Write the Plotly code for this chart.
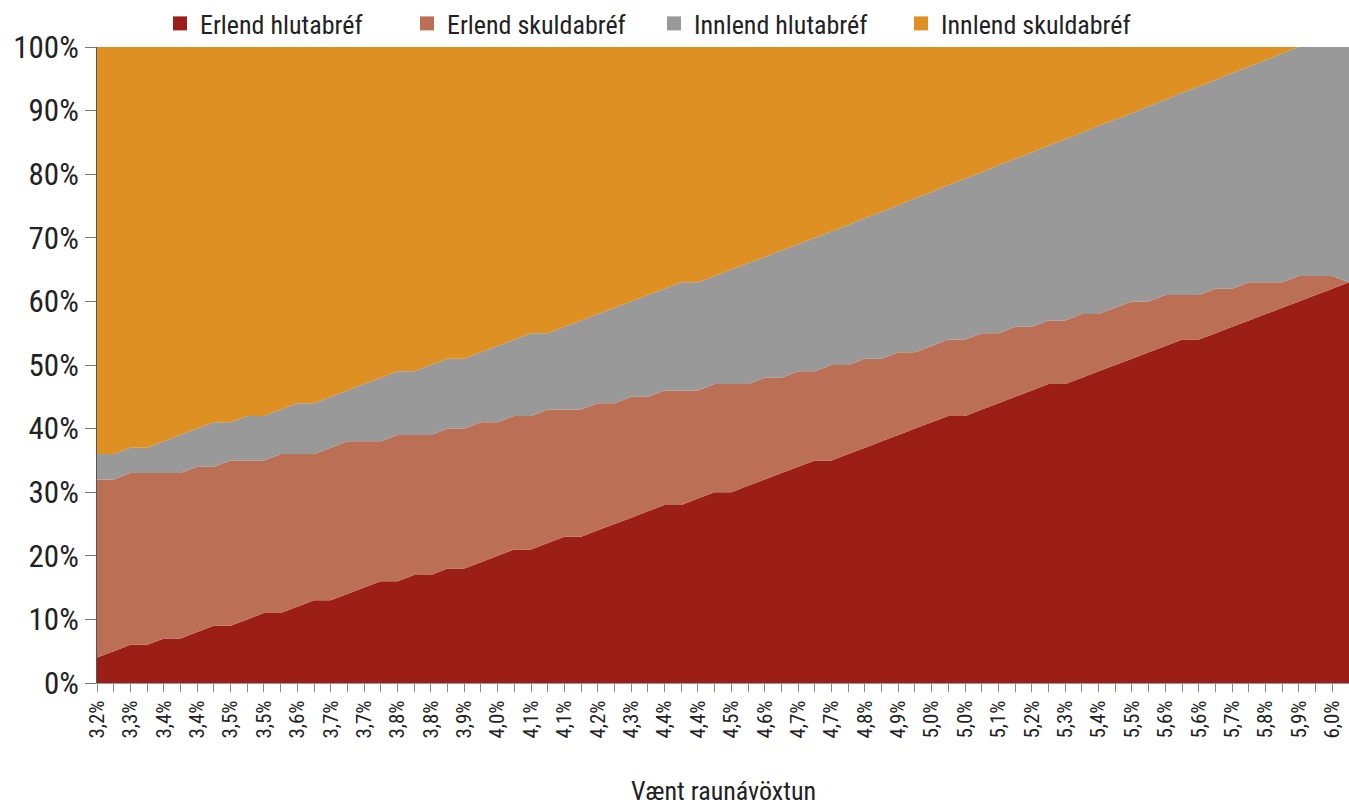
import plotly.graph_objects as go

# Tick labels shown on every other category (expected real return)
x_labels = ["3,2%", "3,3%", "3,4%", "3,4%", "3,5%", "3,5%", "3,6%", "3,7%", "3,7%", "3,8%",
            "3,8%", "3,9%", "4,0%", "4,1%", "4,1%", "4,2%", "4,3%", "4,4%", "4,4%", "4,5%",
            "4,6%", "4,7%", "4,7%", "4,8%", "4,9%", "5,0%", "5,0%", "5,1%", "5,2%", "5,3%",
            "5,4%", "5,5%", "5,6%", "5,6%", "5,7%", "5,8%", "5,9%", "6,0%"]

erlend_hlutabref = [4, 5, 6, 6, 7, 7, 8, 9, 9, 10, 11, 11, 12, 13, 13, 14, 15, 16, 16, 17,
                    17, 18, 18, 19, 20, 21, 21, 22, 23, 23, 24, 25, 26, 27, 28, 28, 29, 30, 30, 31,
                    32, 33, 34, 35, 35, 36, 37, 38, 39, 40, 41, 42, 42, 43, 44, 45, 46, 47, 47, 48,
                    49, 50, 51, 52, 53, 54, 54, 55, 56, 57, 58, 59, 60, 61, 62, 63]
erlend_skuldabref = [28, 27, 27, 27, 26, 26, 26, 25, 26, 25, 24, 25, 24, 23, 24, 24, 23, 22, 23, 22,
                     22, 22, 22, 22, 21, 21, 21, 21, 20, 20, 20, 19, 19, 18, 18, 18, 17, 17, 17, 16,
                     16, 15, 15, 14, 15, 14, 14, 13, 13, 12, 12, 12, 12, 12, 11, 11, 10, 10, 10, 10,
                     9, 9, 9, 8, 8, 7, 7, 7, 6, 6, 5, 4, 4, 3, 2, 0]
innlend_hlutabref = [4, 4, 4, 4, 5, 6, 6, 7, 6, 7, 7, 7, 8, 8, 8, 8, 9, 10, 10, 10,
                     11, 11, 11, 11, 12, 12, 13, 12, 13, 14, 14, 15, 15, 16, 16, 17, 17, 17, 18, 19,
                     19, 20, 20, 21, 21, 22, 22.1, 23.1, 23.1, 24.2, 24.2, 24.3, 25.3, 25.3, 26.4, 26.4,
                     27.4, 27.5, 28.5, 28.5, 29.6, 29.6, 29.6, 30.7, 30.7, 31.8, 32.8, 32.8, 33.9, 33.9,
                     34.9, 36, 36, 36, 36, 37]
innlend_skuldabref = [64, 64, 63, 63, 62, 61, 60, 59, 59, 58, 58, 57, 56, 56, 55, 54, 53, 52, 51, 51,
                      50, 49, 49, 48, 47, 46, 45, 45, 44, 43, 42, 41, 40, 39, 38, 37, 37, 36, 35, 34,
                      33, 32, 31, 30, 29, 28, 26.9, 25.9, 24.9, 23.8, 22.8, 21.7, 20.7, 19.7, 18.6, 17.6,
                      16.6, 15.5, 14.5, 13.5, 12.4, 11.4, 10.4, 9.3, 8.3, 7.2, 6.2, 5.2, 4.1, 3.1,
                      2.1, 1, 0, 0, 0, 0]

series_names = ["Erlend hlutabréf", "Erlend skuldabréf", "Innlend hlutabréf", "Innlend skuldabréf"]
series_values = [erlend_hlutabref, erlend_skuldabref, innlend_hlutabref, innlend_skuldabref]
colors = ["#9b1f16", "#bb6f55", "#999999", "#de9022"]

n = len(erlend_hlutabref)
x = list(range(n))
tickvals = x
ticktext = [x_labels[i // 2] if i % 2 == 0 and i // 2 < len(x_labels) else "" for i in x]

FONT = "Roboto Condensed, Liberation Sans Narrow, Arial Narrow, DejaVu Sans Condensed, Roboto, sans-serif"

fig = go.Figure()
for name, vals, col in zip(series_names, series_values, colors):
    fig.add_trace(go.Scatter(
        x=x, y=vals, name=name, stackgroup="one", mode="none",
        fillcolor=col, line=dict(width=0, color=col), showlegend=False,
    ))
# legend entries with square swatches
for name, col in zip(series_names, colors):
    fig.add_trace(go.Scatter(
        x=[None], y=[None], name=name, mode="markers",
        marker=dict(symbol="square", size=14, color=col), showlegend=True,
    ))

fig.update_layout(
    width=1349, height=806,
    margin=dict(l=97, r=0, t=47, b=123),
    paper_bgcolor="white", plot_bgcolor="white",
    font=dict(family=FONT, color="#222222"),
    showlegend=True,
    legend=dict(
        orientation="h", yref="paper",
        x=(160 - 97) / (1349 - 97), xanchor="left", y=1.0, yanchor="bottom",
        font=dict(size=26, family=FONT, color="#222222"),
        entrywidth=202, entrywidthmode="pixels",
        bgcolor="rgba(0,0,0,0)", traceorder="normal",
    ),
    xaxis=dict(
        range=[0, n - 1], tickmode="array", tickvals=tickvals, ticktext=ticktext,
        tickangle=-90, ticks="outside", ticklen=8, tickcolor="#888888",
        showline=True, linecolor="#999999", showgrid=False, zeroline=False,
        tickfont=dict(size=21, family=FONT, color="#222222"), automargin=False,
    ),
    yaxis=dict(
        range=[0, 100], tickmode="array", tickvals=list(range(0, 101, 10)),
        ticktext=[f"{v}%" for v in range(0, 101, 10)],
        ticks="outside", ticklen=11, tickcolor="#777777",
        showline=True, linecolor="#555555", showgrid=False, zeroline=False,
        tickfont=dict(size=31, family=FONT, color="#222222"), automargin=False,
    ),
    annotations=[dict(
        text="Vænt raunávöxtun", xref="paper", yref="paper",
        x=0.5, y=-0.17, xanchor="center", yanchor="middle", showarrow=False,
        font=dict(size=26, family=FONT, color="#222222"),
    )],
)

fig.write_html("out.html")
